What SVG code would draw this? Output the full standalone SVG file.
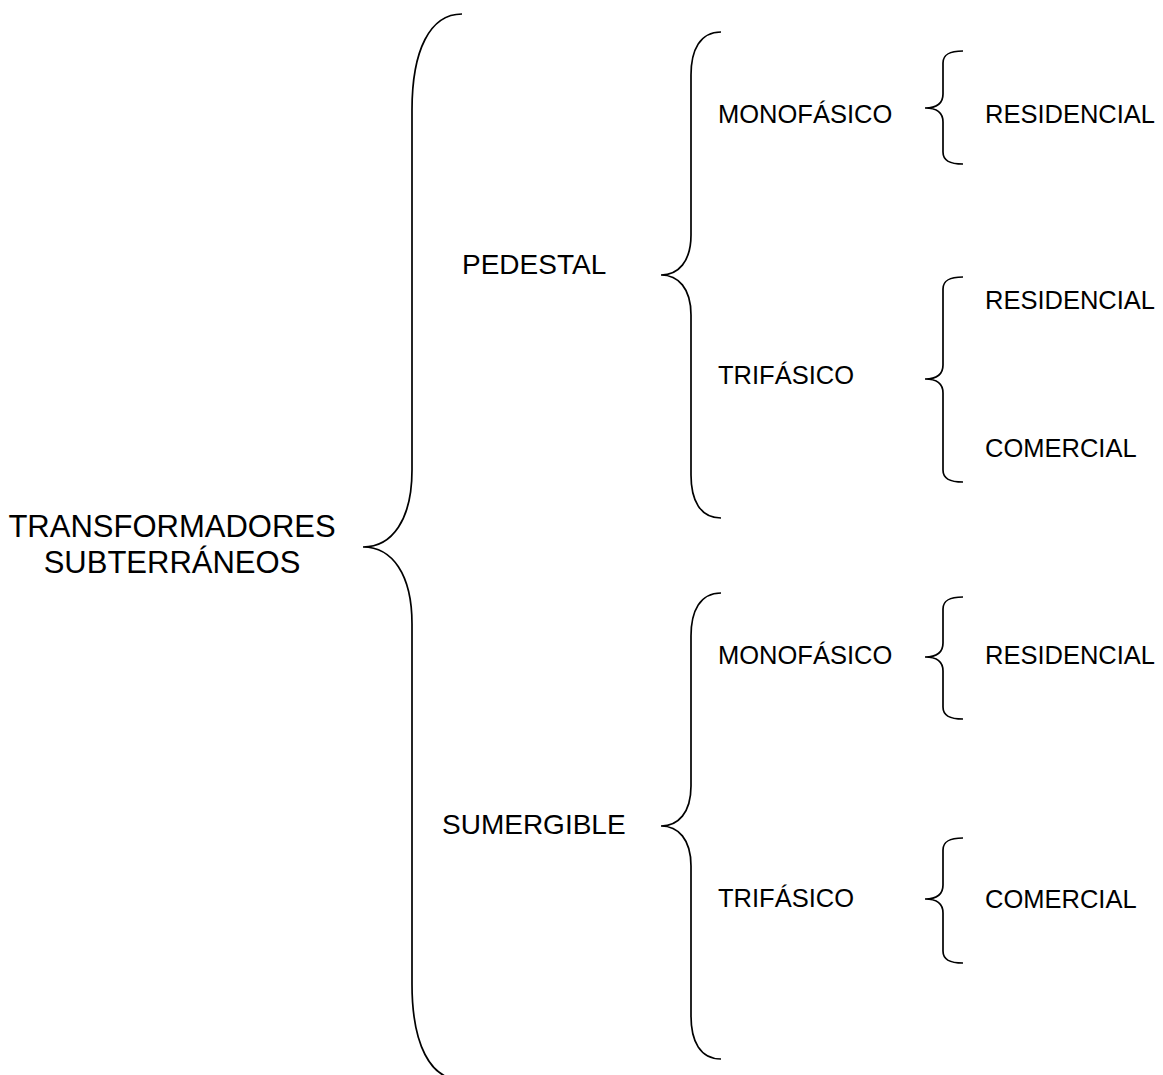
<svg xmlns="http://www.w3.org/2000/svg" width="1163" height="1075" viewBox="0 0 1163 1075">
<style>
text{font-family:"Liberation Sans",Arial,sans-serif;fill:#000}
.l1{font-size:31px}
.l2{font-size:28px}
.l3{font-size:25.5px}
.br{fill:none;stroke:#000;stroke-width:1.7}
</style>
<rect width="1163" height="1075" fill="#fff"/>
<g id="connectors">
<path class="br" d="M462,14 C430,14 412,50 412,110 L412,470 C412,520 392,547 363,547 C392,547 412,574 412,624 L412,984 C412,1044 430,1080 462,1080"/>
<path class="br" d="M721,32 C700,32 691,50 691,75 L691,235 C691,262 678,275 661,275 C678,275 691,288 691,315 L691,475 C691,500 700,518 721,518"/>
<path class="br" d="M721,593 C700,593 691,611 691,636 L691,786 C691,813 678,826 661,826 C678,826 691,839 691,866 L691,1016 C691,1041 700,1059 721,1059"/>
<path class="br" d="M963,51 C950,51 943,54 943,63 L943,94 C943,103 937,108 925,108 C937,108 943,113 943,122 L943,152 C943,161 950,164 963,164"/>
<path class="br" d="M963,277 C950,277 943,280 943,289 L943,365 C943,374 937,379 925,379 C937,379 943,384 943,393 L943,470 C943,479 950,482 963,482"/>
<path class="br" d="M963,597 C950,597 943,600 943,609 L943,643 C943,652 937,657 925,657 C937,657 943,662 943,671 L943,707 C943,716 950,719 963,719"/>
<path class="br" d="M963,838 C950,838 943,841 943,850 L943,885 C943,894 937,899 925,899 C937,899 943,904 943,913 L943,951 C943,960 950,963 963,963"/>
</g>
<g id="root"><text class="l1" x="172" y="537" text-anchor="middle">TRANSFORMADORES</text><text class="l1" x="172" y="573" text-anchor="middle">SUBTERRÁNEOS</text></g>
<g id="pedestal"><text class="l2" x="462" y="274">PEDESTAL</text></g>
<g id="sumergible"><text class="l2" x="442" y="834">SUMERGIBLE</text></g>
<g id="ped-mono"><text class="l3" x="718" y="123">MONOFÁSICO</text></g>
<g id="ped-mono-res"><text class="l3" x="985" y="123">RESIDENCIAL</text></g>
<g id="ped-tri"><text class="l3" x="718" y="384">TRIFÁSICO</text></g>
<g id="ped-tri-res"><text class="l3" x="985" y="309">RESIDENCIAL</text></g>
<g id="ped-tri-com"><text class="l3" x="985" y="457">COMERCIAL</text></g>
<g id="sum-mono"><text class="l3" x="718" y="664">MONOFÁSICO</text></g>
<g id="sum-mono-res"><text class="l3" x="985" y="664">RESIDENCIAL</text></g>
<g id="sum-tri"><text class="l3" x="718" y="907">TRIFÁSICO</text></g>
<g id="sum-tri-com"><text class="l3" x="985" y="908">COMERCIAL</text></g>
</svg>
